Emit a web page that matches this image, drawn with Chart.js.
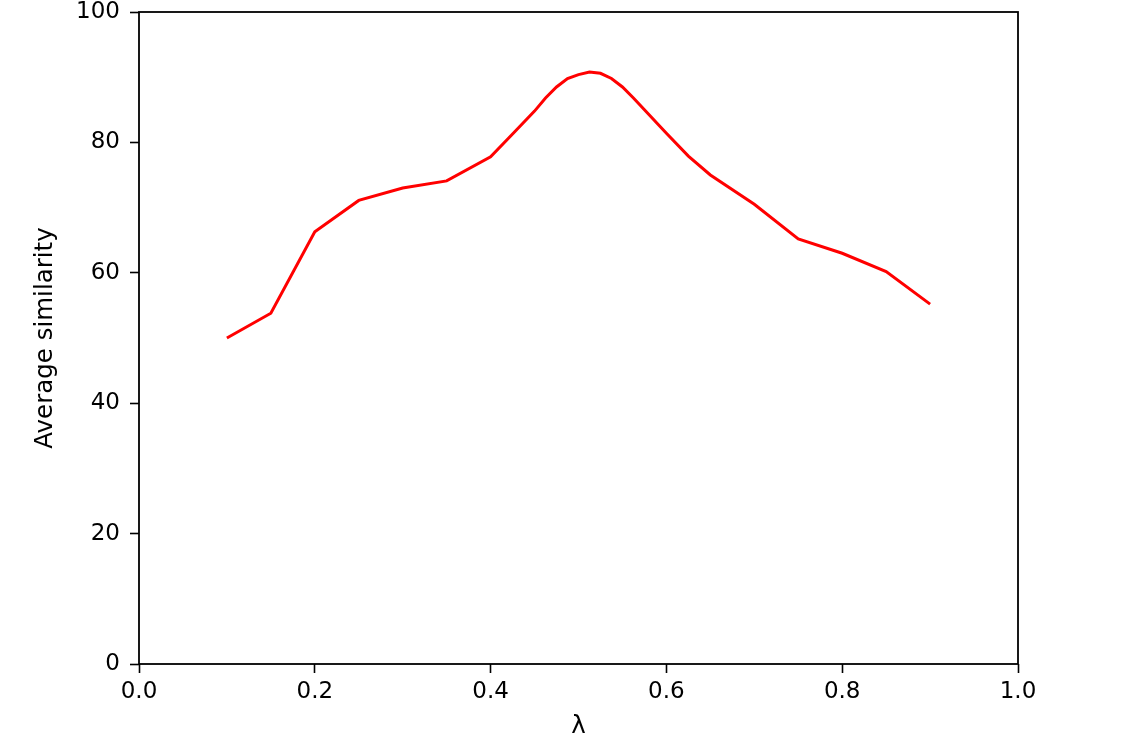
<!DOCTYPE html>
<html lang="en">
<head>
<meta charset="UTF-8">
<title>Average similarity vs lambda</title>
<script src="https://cdn.jsdelivr.net/npm/chart.js"></script>
<style>
  body { margin: 0; background: #fff; }
  canvas { display: block; }
</style>
</head>
<body>
<canvas id="chart" width="1129" height="749"></canvas>
<script>
// values (denser around the rounded peak)
const lambdas = [0.1, 0.15, 0.2, 0.25, 0.3, 0.35, 0.4, 0.425, 0.45, 0.4625, 0.475, 0.4875, 0.5, 0.5125, 0.525, 0.5375, 0.55, 0.5625, 0.575, 0.6, 0.625, 0.65, 0.7, 0.75, 0.8, 0.85, 0.9];
const similarity = [50, 53.8, 66.3, 71.1, 73, 74.1, 77.8, 81.3, 84.8, 86.8, 88.5, 89.8, 90.4, 90.8, 90.6, 89.8, 88.5, 86.8, 85, 81.4, 77.9, 75, 70.5, 65.2, 63, 60.2, 55.2];
const xTicks = [0, 0.2, 0.4, 0.6, 0.8, 1.0];
const yTicks = [0, 20, 40, 60, 80, 100];

const font = { family: '"DejaVu Sans", sans-serif', size: 23 };
const titleFont = { family: '"DejaVu Sans", sans-serif', size: 24.5 };

// draws the full box around the plot area like matplotlib spines
const frame = {
  id: 'frame',
  afterDraw(chart) {
    const { ctx, chartArea: a } = chart;
    ctx.save();
    ctx.strokeStyle = '#000';
    ctx.lineWidth = 1.8;
    ctx.strokeRect(a.left, a.top, a.right - a.left, a.bottom - a.top);
    ctx.restore();
  }
};

new Chart(document.getElementById('chart'), {
  type: 'line',
  data: {
    datasets: [{
      data: lambdas.map((x, i) => ({ x, y: similarity[i] })),
      borderColor: '#ff0000',
      borderWidth: 3,
      pointRadius: 0,
      tension: 0,
      fill: false
    }]
  },
  options: {
    responsive: false,
    animation: false,
    devicePixelRatio: 1,
    layout: { padding: { top: 12, right: 111, left: 0, bottom: 0 } },
    plugins: { legend: { display: false }, tooltip: { enabled: false } },
    scales: {
      x: {
        type: 'linear',
        min: 0, max: 1,
        afterBuildTicks: s => { s.ticks = xTicks.map(v => ({ value: v })); },
        afterFit: s => { s.height = 85; s.paddingLeft = 0; s.paddingRight = 0; },
        ticks: { color: '#000', font, padding: 5, maxRotation: 0, callback: v => v.toFixed(1) },
        grid: { drawOnChartArea: false, color: '#000', tickLength: 9, tickWidth: 1.6 },
        border: { display: false },
        title: { display: true, text: 'λ', color: '#000', font: titleFont, padding: { top: 0, bottom: 8 } }
      },
      y: {
        min: 0, max: 100,
        afterBuildTicks: s => { s.ticks = yTicks.map(v => ({ value: v })); },
        afterFit: s => { s.width = 139; s.paddingTop = 0; s.paddingBottom = 0; },
        ticks: { color: '#000', font, padding: 10 },
        grid: { drawOnChartArea: false, color: '#000', tickLength: 9, tickWidth: 1.6 },
        border: { display: false },
        title: { display: true, text: 'Average similarity', color: '#000', font: titleFont, padding: { top: 31, bottom: 0 } }
      }
    }
  },
  plugins: [frame]
});
</script>
</body>
</html>
